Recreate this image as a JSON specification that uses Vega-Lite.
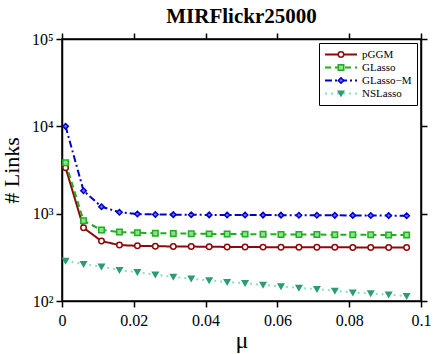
{
  "$schema": "https://vega.github.io/schema/vega-lite/v6.json",
  "width": 359,
  "height": 262,
  "autosize": "none",
  "padding": {"left": 62, "top": 39, "right": 15, "bottom": 53},
  "background": "white",
  "config": {
    "font": "Liberation Serif",
    "view": {"stroke": "black", "strokeWidth": 1.5},
    "axis": {
      "grid": false,
      "domainColor": "black",
      "domainWidth": 1.5,
      "tickColor": "black",
      "tickWidth": 1.5,
      "tickSize": 6,
      "labelColor": "black",
      "labelFont": "Liberation Serif",
      "labelFontSize": 16,
      "titleColor": "black",
      "titleFont": "Liberation Serif",
      "titleFontWeight": "normal"
    }
  },
  "title": {
    "text": "MIRFlickr25000",
    "font": "Liberation Serif",
    "fontSize": 21,
    "fontWeight": "bold",
    "color": "black",
    "anchor": "middle",
    "offset": 4
  },
  "data": {
    "values": [
      {"mu": 0.001, "method": "pGGM", "links": 3360},
      {"mu": 0.006, "method": "pGGM", "links": 690},
      {"mu": 0.011, "method": "pGGM", "links": 485},
      {"mu": 0.016, "method": "pGGM", "links": 437},
      {"mu": 0.021, "method": "pGGM", "links": 428},
      {"mu": 0.026, "method": "pGGM", "links": 424},
      {"mu": 0.031, "method": "pGGM", "links": 421},
      {"mu": 0.036, "method": "pGGM", "links": 420},
      {"mu": 0.041, "method": "pGGM", "links": 418},
      {"mu": 0.046, "method": "pGGM", "links": 416},
      {"mu": 0.051, "method": "pGGM", "links": 415},
      {"mu": 0.056, "method": "pGGM", "links": 414},
      {"mu": 0.061, "method": "pGGM", "links": 413},
      {"mu": 0.066, "method": "pGGM", "links": 413},
      {"mu": 0.071, "method": "pGGM", "links": 412},
      {"mu": 0.076, "method": "pGGM", "links": 412},
      {"mu": 0.081, "method": "pGGM", "links": 411},
      {"mu": 0.086, "method": "pGGM", "links": 411},
      {"mu": 0.091, "method": "pGGM", "links": 411},
      {"mu": 0.096, "method": "pGGM", "links": 410},
      {"mu": 0.001, "method": "GLasso", "links": 3830},
      {"mu": 0.006, "method": "GLasso", "links": 830},
      {"mu": 0.011, "method": "GLasso", "links": 650},
      {"mu": 0.016, "method": "GLasso", "links": 615},
      {"mu": 0.021, "method": "GLasso", "links": 604},
      {"mu": 0.026, "method": "GLasso", "links": 598},
      {"mu": 0.031, "method": "GLasso", "links": 594},
      {"mu": 0.036, "method": "GLasso", "links": 590},
      {"mu": 0.041, "method": "GLasso", "links": 587},
      {"mu": 0.046, "method": "GLasso", "links": 585},
      {"mu": 0.051, "method": "GLasso", "links": 583},
      {"mu": 0.056, "method": "GLasso", "links": 581},
      {"mu": 0.061, "method": "GLasso", "links": 579},
      {"mu": 0.066, "method": "GLasso", "links": 577},
      {"mu": 0.071, "method": "GLasso", "links": 576},
      {"mu": 0.076, "method": "GLasso", "links": 575},
      {"mu": 0.081, "method": "GLasso", "links": 573},
      {"mu": 0.086, "method": "GLasso", "links": 572},
      {"mu": 0.091, "method": "GLasso", "links": 570},
      {"mu": 0.096, "method": "GLasso", "links": 569},
      {"mu": 0.001, "method": "GLasso−M", "links": 10000},
      {"mu": 0.006, "method": "GLasso−M", "links": 1830},
      {"mu": 0.011, "method": "GLasso−M", "links": 1200},
      {"mu": 0.016, "method": "GLasso−M", "links": 1040},
      {"mu": 0.021, "method": "GLasso−M", "links": 990},
      {"mu": 0.026, "method": "GLasso−M", "links": 980},
      {"mu": 0.031, "method": "GLasso−M", "links": 975},
      {"mu": 0.036, "method": "GLasso−M", "links": 970},
      {"mu": 0.041, "method": "GLasso−M", "links": 968},
      {"mu": 0.046, "method": "GLasso−M", "links": 966},
      {"mu": 0.051, "method": "GLasso−M", "links": 965},
      {"mu": 0.056, "method": "GLasso−M", "links": 963},
      {"mu": 0.061, "method": "GLasso−M", "links": 962},
      {"mu": 0.066, "method": "GLasso−M", "links": 960},
      {"mu": 0.071, "method": "GLasso−M", "links": 958},
      {"mu": 0.076, "method": "GLasso−M", "links": 957},
      {"mu": 0.081, "method": "GLasso−M", "links": 955},
      {"mu": 0.086, "method": "GLasso−M", "links": 953},
      {"mu": 0.091, "method": "GLasso−M", "links": 950},
      {"mu": 0.096, "method": "GLasso−M", "links": 945},
      {"mu": 0.001, "method": "NSLasso", "links": 288},
      {"mu": 0.006, "method": "NSLasso", "links": 265},
      {"mu": 0.011, "method": "NSLasso", "links": 247},
      {"mu": 0.016, "method": "NSLasso", "links": 226},
      {"mu": 0.021, "method": "NSLasso", "links": 214},
      {"mu": 0.026, "method": "NSLasso", "links": 200},
      {"mu": 0.031, "method": "NSLasso", "links": 189},
      {"mu": 0.036, "method": "NSLasso", "links": 180},
      {"mu": 0.041, "method": "NSLasso", "links": 172},
      {"mu": 0.046, "method": "NSLasso", "links": 165},
      {"mu": 0.051, "method": "NSLasso", "links": 160},
      {"mu": 0.056, "method": "NSLasso", "links": 153},
      {"mu": 0.061, "method": "NSLasso", "links": 147},
      {"mu": 0.066, "method": "NSLasso", "links": 141},
      {"mu": 0.071, "method": "NSLasso", "links": 137},
      {"mu": 0.076, "method": "NSLasso", "links": 131},
      {"mu": 0.081, "method": "NSLasso", "links": 125},
      {"mu": 0.086, "method": "NSLasso", "links": 122},
      {"mu": 0.091, "method": "NSLasso", "links": 118},
      {"mu": 0.096, "method": "NSLasso", "links": 114}
    ]
  },
  "layer": [
    {
      "mark": {"type": "line", "strokeWidth": 2},
      "encoding": {
        "x": {
          "field": "mu", "type": "quantitative",
          "scale": {"domain": [0, 0.1], "nice": false, "zero": false},
          "axis": {"orient": "bottom", "values": [0, 0.02, 0.04, 0.06, 0.08, 0.1], "format": ".2~f", "labelPadding": 5, "title": "μ", "titleFontSize": 24, "titlePadding": 0, "labelFlush": false}
        },
        "y": {
          "field": "links", "type": "quantitative",
          "scale": {"type": "log", "domain": [100, 100000], "nice": false},
          "axis": {"orient": "left", "values": [100, 1000, 10000, 100000], "labelExpr": "datum.value == 100 ? '10²' : datum.value == 1000 ? '10³' : datum.value == 10000 ? '10⁴' : '10⁵'", "labelPadding": 3, "title": "# Links", "titleFontSize": 22, "titlePadding": 8, "labelFlush": false}
        },
        "color": {
          "field": "method", "type": "nominal",
          "scale": {"domain": ["pGGM", "GLasso", "GLasso−M", "NSLasso"], "range": ["#8b0a0a", "#1fae1f", "#0000cc", "#8fdcc4"]},
          "legend": {
            "orient": "none", "legendX": 257, "legendY": 4, "title": null,
            "fillColor": "white", "strokeColor": "black", "padding": 5,
            "symbolType": "stroke", "symbolSize": 1024, "symbolStrokeWidth": 2, "symbolOffset": 0,
            "clipHeight": 13,
            "labelFont": "Liberation Serif", "labelFontSize": 11, "labelColor": "black", "labelOffset": 4,
            "rowPadding": 0
          }
        },
        "strokeDash": {
          "field": "method", "type": "nominal",
          "scale": {"domain": ["pGGM", "GLasso", "GLasso−M", "NSLasso"], "range": [[1, 0], [6, 4], [7, 3, 2, 3], [2, 4]]}
        }
      }
    },
    {
      "mark": {"type": "point", "strokeWidth": 1.5, "opacity": 1, "size": 30},
      "encoding": {
        "x": {
          "field": "mu", "type": "quantitative",
          "scale": {"domain": [0, 0.1], "nice": false, "zero": false},
          "axis": {"orient": "top", "values": [0, 0.02, 0.04, 0.06, 0.08, 0.1], "labels": false, "title": null}
        },
        "y": {
          "field": "links", "type": "quantitative",
          "scale": {"type": "log", "domain": [100, 100000], "nice": false},
          "axis": {"orient": "right", "values": [100, 1000, 10000, 100000], "labels": false, "title": null}
        },
        "shape": {
          "field": "method", "type": "nominal", "sort": null,
          "scale": {"range": ["circle", "square", "diamond", "triangle-down"]},
          "legend": {
            "orient": "none", "legendX": 257, "legendY": 4, "title": null, "zindex": 1,
            "padding": 5, "clipHeight": 13, "symbolOffset": 11.5,
            "labelFont": "Liberation Serif", "labelFontSize": 11, "labelExpr": "''", "labelOffset": 4,
            "rowPadding": 0, "symbolSize": 30, "symbolStrokeWidth": 1.5, "symbolOpacity": 1
          }
        },
        "stroke": {
          "field": "method", "type": "nominal", "sort": null,
          "scale": {"range": ["#8b0a0a", "#1fae1f", "#0000cc", "#2a9d77"]}
        },
        "fill": {
          "field": "method", "type": "nominal", "sort": null,
          "scale": {"range": ["#ffffff", "#8fe08f", "#6a6aff", "#2a9d77"]}
        }
      }
    }
  ],
  "resolve": {"axis": {"x": "independent", "y": "independent"}}
}
